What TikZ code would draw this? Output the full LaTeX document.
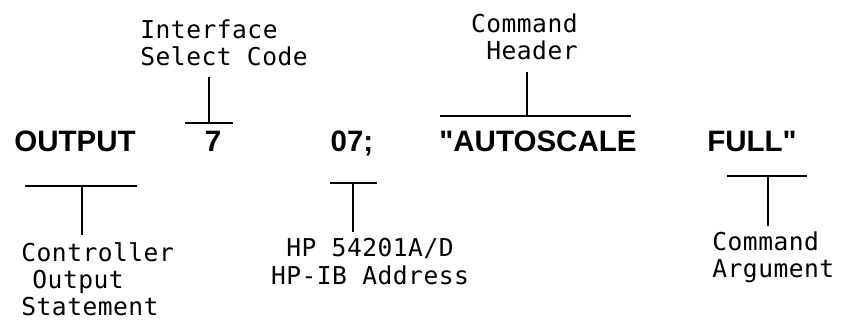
\documentclass[tikz,border=0pt]{standalone}
\usepackage{fontspec}
\newfontfamily\wordfont{Liberation Sans}
\newfontfamily\typefont[LetterSpace=2]{DejaVu Sans Mono}

\begin{document}
\begin{tikzpicture}[
    x=0.02cm, y=-0.02cm,
    word/.style={inner sep=0pt, anchor=base, font=\fontsize{16.8}{20}\selectfont\wordfont\bfseries},
    note/.style={inner sep=0pt, font=\fontsize{14}{15.6}\selectfont\typefont},
    tee/.style={line width=1.1pt}
]
\useasboundingbox (0,0) rectangle (841,327);

% Row: the statement itself
\node[word] (output) at (75,152) {OUTPUT};
\node[word] (isc) at (213,152) {7};
\node[word] (addr) at (352,152) {07;};
\node[word] (header) at (538,152) {"AUTOSCALE};
\node[word] (arg) at (752,152) {FULL"};

% Labels above
\node[note, anchor=north west, align=left] (iscnote) at (140,19) {Interface\\Select Code};
\node[note, anchor=north east, align=right] (headernote) at (578,13) {Command\\Header};

% Labels below
\node[note, anchor=north west, align=left] (outputnote) at (21,242) {Controller\\\kern0.45em Output\\Statement};
\node[note, anchor=north, align=center] (addrnote) at (370,238) {HP 54201A/D\\HP-IB Address};
\node[note, anchor=north west, align=left] (argnote) at (712,231) {Command\\Argument};

% Tee markers
\coordinate (iscbar) at (209,123);
\coordinate (iscstem) at (209,77);
\draw[tee] (iscbar) ++(-24,0) -- ++(48,0);
\draw[tee] (iscbar) -- (iscstem);

\coordinate (headerbar) at (527,116);
\coordinate (headerstem) at (527,72);
\draw[tee] (headerbar) ++(-87,0) -- ++(191,0);
\draw[tee] (headerbar) -- (headerstem);

\coordinate (outputbar) at (82,186);
\coordinate (outputstem) at (82,235);
\draw[tee] (outputbar) ++(-57,0) -- ++(112,0);
\draw[tee] (outputbar) -- (outputstem);

\coordinate (addrbar) at (353,183);
\coordinate (addrstem) at (353,232);
\draw[tee] (addrbar) ++(-23,0) -- ++(47,0);
\draw[tee] (addrbar) -- (addrstem);

\coordinate (argbar) at (768,176);
\coordinate (argstem) at (768,226);
\draw[tee] (argbar) ++(-41,0) -- ++(80,0);
\draw[tee] (argbar) -- (argstem);

\end{tikzpicture}
\end{document}
